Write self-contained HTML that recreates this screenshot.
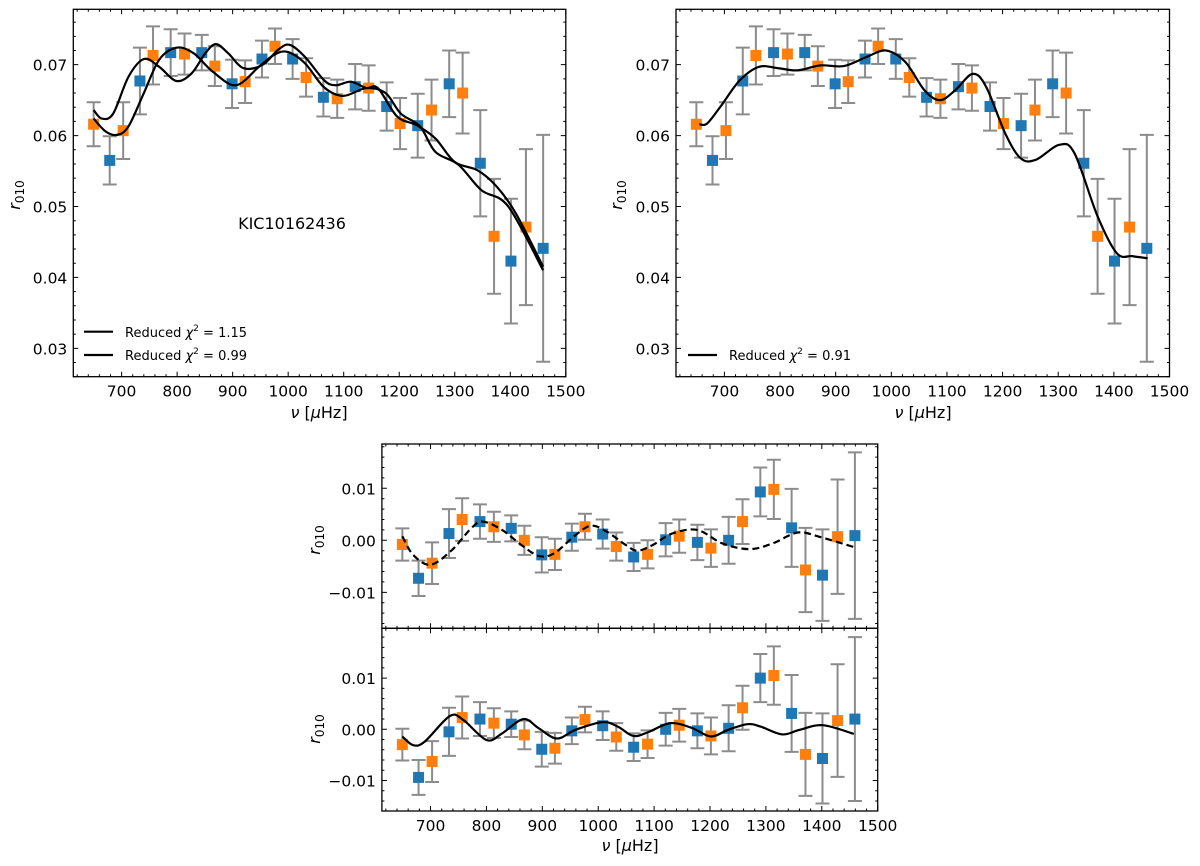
<!DOCTYPE html>
<html><head><meta charset="utf-8"><style>
html,body{margin:0;padding:0;background:#fff;}
svg{display:block;font-family:"DejaVu Sans","Liberation Sans",sans-serif;}
</style></head><body>
<svg id="fig" width="1200" height="866" viewBox="0 0 1200 866" xmlns="http://www.w3.org/2000/svg"></svg>
<script>
// ---- data ----
const nuBlue=[678.6,733,788.4,844.4,899,952.8,1008,1063.4,1120.7,1177.4,1233.3,1290,1346,1401.2,1459.2];
const nuOrange=[649.6,702.8,756.6,813.3,867.9,922.5,976.3,1032.3,1088.3,1144.9,1201.6,1258.2,1314.2,1370.8,1428.2];
const rBlue=[0.0565,0.0677,0.0717,0.0717,0.0673,0.0708,0.0708,0.0654,0.0669,0.0641,0.0614,0.0673,0.0561,0.0423,0.0441];
const rOrange=[0.0616,0.0607,0.0713,0.0715,0.0698,0.0676,0.0726,0.0682,0.0652,0.0667,0.0617,0.0636,0.0660,0.0458,0.0471];
const errBlue=[0.0034,0.0047,0.0033,0.0025,0.0034,0.0026,0.0028,0.0027,0.0032,0.0034,0.0045,0.0047,0.0075,0.0088,0.016];
const errOrange=[0.0031,0.0040,0.0041,0.0029,0.0028,0.0030,0.0025,0.0027,0.0027,0.0032,0.0036,0.0043,0.0057,0.0081,0.011];
const resABlue=[-0.0073,0.0013,0.0036,0.0023,-0.0028,0.0006,0.0012,-0.0032,0.0001,-0.0004,0.0000,0.0093,0.0024,-0.0067,0.0009];
const resAOrange=[-0.0008,-0.0044,0.0040,0.0026,0.0000,-0.0027,0.0026,-0.0012,-0.0027,0.0008,-0.0015,0.0036,0.0098,-0.0057,0.0007];
const resBBlue=[-0.0094,-0.0005,0.0020,0.0010,-0.0039,-0.0003,0.0007,-0.0035,0.0000,-0.0003,0.0002,0.0100,0.0031,-0.0057,0.0020];
const resBOrange=[-0.0030,-0.0063,0.0023,0.0012,-0.0011,-0.0037,0.0019,-0.0015,-0.0029,0.0008,-0.0013,0.0042,0.0105,-0.0049,0.0017];
const fit1Nu=[649.6,664.1,684.8,712.4,740.1,767.7,798.8,826.4,850.6,869.9,892.1,919.7,954.2,981.9,1002.6,1030.2,1064.8,1085.5,1113.1,1140.8,1161.5,1196.0,1230.6,1265.1,1299.6,1341.1,1375.6,1410.2,1459.2];
const fit1R=[0.0636,0.0624,0.0631,0.0683,0.0708,0.0697,0.0677,0.0688,0.0716,0.0729,0.0716,0.0695,0.0700,0.0721,0.0728,0.0711,0.0678,0.0671,0.0676,0.0667,0.0667,0.0627,0.0615,0.0596,0.0563,0.0551,0.0528,0.0490,0.0415];
const fit2Nu=[649.6,671.0,691.7,712.4,740.1,767.7,798.8,829.9,864.4,905.9,947.3,974.9,999.1,1030.2,1064.8,1099.3,1140.8,1175.3,1202.9,1237.5,1265.1,1306.6,1348.0,1396.4,1459.2];
const fit2R=[0.0624,0.0606,0.0601,0.0613,0.0660,0.0707,0.0724,0.0716,0.0690,0.0671,0.0697,0.0714,0.0718,0.0702,0.0668,0.0656,0.0667,0.0660,0.0631,0.0613,0.0577,0.0559,0.0523,0.0500,0.0410];
const fit3Nu=[655.0,668.9,693.1,727.7,762.2,796.8,831.4,872.9,914.4,955.9,990.5,1025.0,1059.6,1087.3,1115.0,1146.1,1170.3,1204.8,1232.5,1260.2,1301.7,1329.3,1370.8,1405.4,1433.1,1460.7];
const fit3R=[0.0616,0.0617,0.0641,0.0678,0.0697,0.0695,0.0692,0.0699,0.0698,0.0711,0.0720,0.0704,0.0664,0.0650,0.0664,0.0687,0.0669,0.0603,0.0568,0.0566,0.0587,0.0575,0.0486,0.0434,0.0430,0.0427];
const resFitANu=[649.5,668.9,700,738.0,772.6,793.4,828.0,862.5,893.6,921.3,959.3,987.0,1014.7,1049.2,1070.0,1097.6,1132.2,1177.2,1222.1,1270.5,1312.0,1357.0,1395.0,1457.3];
const resFitAR=[0.0008,-0.0028,-0.0047,-0.0019,0.0023,0.0036,0.0020,-0.0009,-0.0030,-0.0025,0.0010,0.0028,0.0017,-0.0009,-0.0020,-0.0009,0.0013,0.0020,-0.0006,-0.0017,-0.0006,0.0015,0.0007,-0.0013];
const resFitBNu=[649.5,668.9,689.6,734.6,758.8,800.3,828.0,866.0,893.6,926.1,959.3,1007.7,1035.4,1063.1,1090.7,1128.8,1166.8,1201.4,1232.5,1267.1,1291.3,1329.3,1360.4,1401.9,1457.3];
const resFitBR=[-0.0014,-0.0031,-0.0024,0.0026,0.0018,-0.0021,-0.0008,0.0020,0.0002,-0.0018,-0.0001,0.0014,0.0005,-0.0013,-0.0005,0.0012,0.0003,-0.0014,-0.0001,0.0010,0.0005,-0.0010,-0.0001,0.0008,-0.0009];
const xTicks=[700,800,900,1000,1100,1200,1300,1400,1500];
const yTicksTop=[0.03,0.04,0.05,0.06,0.07];
const yTickLabelsTop=["0.03","0.04","0.05","0.06","0.07"];
const yTicksRes=[-0.01,0,0.01];
const yTickLabelsRes=["\u22120.01","0.00","0.01"];

const NS="http://www.w3.org/2000/svg";
const svg=document.getElementById('fig');
function mk(tag,attrs,parent){const e=document.createElementNS(NS,tag);for(const k in attrs)e.setAttribute(k,attrs[k]);(parent||svg).appendChild(e);return e;}

function makePanel(name,L,R,T,B,x0,x1,y0,y1){
  const g=mk('g',{});
  
  
  const sx=v=>L+(v-x0)/(x1-x0)*(R-L);
  const sy=v=>B-(v-y0)/(y1-y0)*(B-T);
  return {g,sx,sy,L,R,T,B,x0,x1,y0,y1};
}
function frame(p,xt,xlabels,yt,ylabels,yMinorStep,showTop){
  const {g,sx,sy,L,R,T,B}=p;
  const ax=mk('rect',{x:L,y:T,width:R-L,height:B-T,fill:'none',stroke:'#000','stroke-width':1.3},g);
  
  
  let d='';
  for(let v=600;v<=1500.01;v+=20){const x=sx(v);if(x<L-0.1||x>R+0.1)continue;const maj=Math.abs(v%100)<0.01;const l=maj?5:2.5;
    d+=`M${x},${B}v${-l}`; if(showTop) d+=`M${x},${T}v${l}`;}
  for(let v=-0.03;v<=0.09;v+=yMinorStep){const y=sy(v);if(y<T-0.1||y>B+0.1)continue;const maj=yt.some(t=>Math.abs(t-v)<1e-6);const l=maj?5:2.5;
    d+=`M${L},${y}h${l}M${R},${y}h${-l}`;}
  const tk=mk('path',{d,stroke:'#000','stroke-width':1,fill:'none'},g);
  
  
  if(xlabels){xt.forEach(v=>{const t=mk('text',{x:sx(v),y:B+20,'text-anchor':'middle','font-size':15.5},g);t.textContent=v;
    });}
  yt.forEach((v,i)=>{const t=mk('text',{x:L-6,y:sy(v)+6,'text-anchor':'end','font-size':15.5},g);t.textContent=ylabels[i];
    });
}
function curve(p,xs,ys,dash,name){
  const pts=xs.map((x,i)=>[p.sx(x),p.sy(ys[i])]);
  let d=`M${pts[0][0]},${pts[0][1]}`;
  for(let i=0;i<pts.length-1;i++){const p0=pts[Math.max(0,i-1)],p1=pts[i],p2=pts[i+1],p3=pts[Math.min(pts.length-1,i+2)];
    d+=`C${p1[0]+(p2[0]-p0[0])/6},${p1[1]+(p2[1]-p0[1])/6} ${p2[0]-(p3[0]-p1[0])/6},${p2[1]-(p3[1]-p1[1])/6} ${p2[0]},${p2[1]}`;}
  const e=mk('path',{d,fill:'none',stroke:'#000','stroke-width':2.2,'stroke-dasharray':dash||'none'},p.g);
  
  
}
function points(p,xs,ys,es,color,name){
  const gg=mk('g',{},p.g);
  
  
  xs.forEach((x,i)=>{const cx=p.sx(x),yt=p.sy(ys[i]+es[i]),yb=p.sy(ys[i]-es[i]);
    const eb=mk('path',{d:`M${cx},${yt}V${yb}M${cx-7},${yt}h14M${cx-7},${yb}h14`,stroke:'#8c8c8c','stroke-width':2,fill:'none'},gg);
    });
  xs.forEach((x,i)=>{const cx=p.sx(x),cy=p.sy(ys[i]);
    const m=mk('rect',{x:cx-5.5,y:cy-5.5,width:11,height:11,fill:color},gg);
    });
}
function text(x,y,s,size,attrs,name){const t=mk('text',Object.assign({x,y,'font-size':size},attrs||{}));t.innerHTML=s;
  return t;}
function ylabel(x,y,name){const t=mk('text',{x:0,y:0,'font-size':16,transform:`translate(${x},${y}) rotate(-90)`,'text-anchor':'middle'});
  t.innerHTML='<tspan font-style="italic">r</tspan><tspan font-size="12" dy="4">010</tspan>';
  }
function xlabel(x,y,name){text(x,y,'<tspan font-style="italic">ν</tspan> [<tspan font-style="italic">μ</tspan>Hz]',16,{'text-anchor':'middle'},name);}
const BLUE='#1f77b4',ORANGE='#ff7f0e';

// Panel 1
const p1=makePanel('panel-top-left',73.3,565.8,9.3,376.7,613,1500,0.026,0.07781);
frame(p1,xTicks,true,yTicksTop,yTickLabelsTop,0.002,true);
points(p1,nuBlue,rBlue,errBlue,BLUE,'series-blue');
points(p1,nuOrange,rOrange,errOrange,ORANGE,'series-orange');
curve(p1,fit1Nu,fit1R,null,'fit-curve-1');
curve(p1,fit2Nu,fit2R,null,'fit-curve-2');
text(292,229,'KIC10162436',16,{'text-anchor':'middle'},'star-label');
mk('path',{d:'M84,331.7H113M84,355H113',stroke:'#000','stroke-width':2.2});
text(125,337,'Reduced <tspan font-style="italic">χ</tspan><tspan font-size="9" dy="-6">2</tspan><tspan dy="6"> = 1.15</tspan>',13,{},'legend-entry-1');
text(125,360,'Reduced <tspan font-style="italic">χ</tspan><tspan font-size="9" dy="-6">2</tspan><tspan dy="6"> = 0.99</tspan>',13,{},'legend-entry-2');
ylabel(20,195,'y-axis-title-top-left');
xlabel(319,418,'x-axis-title-top-left');

// Panel 2
const p2=makePanel('panel-top-right',676,1169.5,9.3,376.7,613,1500,0.026,0.07781);
frame(p2,xTicks,true,yTicksTop,yTickLabelsTop,0.002,true);
points(p2,nuBlue,rBlue,errBlue,BLUE,'series-blue');
points(p2,nuOrange,rOrange,errOrange,ORANGE,'series-orange');
curve(p2,fit3Nu,fit3R,null,'fit-curve-3');
mk('path',{d:'M688,355H717',stroke:'#000','stroke-width':2.2});
text(729,360,'Reduced <tspan font-style="italic">χ</tspan><tspan font-size="9" dy="-6">2</tspan><tspan dy="6"> = 0.91</tspan>',13,{},'legend-entry-3');
ylabel(622,195,'y-axis-title-top-right');
xlabel(923,418,'x-axis-title-top-right');

// Panel 3
const p3=makePanel('panel-residual-upper',381.9,877.7,444,628.3,613,1500,-0.01692,0.01852);
frame(p3,xTicks,false,yTicksRes,yTickLabelsRes,0.002,true);
points(p3,nuBlue,resABlue,errBlue,BLUE,'series-blue');
points(p3,nuOrange,resAOrange,errOrange,ORANGE,'series-orange');
curve(p3,resFitANu,resFitAR,'7,4','residual-fit-dashed');
ylabel(320,540,'y-axis-title-residual-upper');

// Panel 4
const p4=makePanel('panel-residual-lower',381.9,877.7,628.3,811,613,1500,-0.01596,0.01973);
frame(p4,xTicks,true,yTicksRes,yTickLabelsRes,0.002,true);
points(p4,nuBlue,resBBlue,errBlue,BLUE,'series-blue');
points(p4,nuOrange,resBOrange,errOrange,ORANGE,'series-orange');
curve(p4,resFitBNu,resFitBR,null,'residual-fit-solid');
ylabel(320,729,'y-axis-title-residual-lower');
xlabel(630,851,'x-axis-title-bottom');
</script>
</body></html>
